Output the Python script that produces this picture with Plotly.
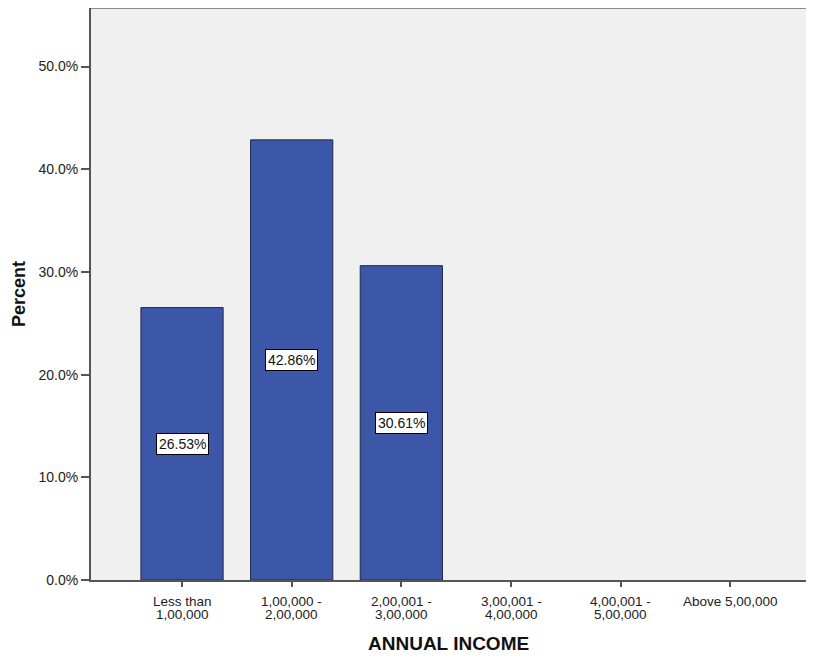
import plotly.graph_objects as go

cat_line1 = ["Less than", "1,00,000 -", "2,00,001 -", "3,00,001 -", "4,00,001 -", "Above 5,00,000"]
cat_line2 = ["1,00,000", "2,00,000", "3,00,000", "4,00,000", "5,00,000", ""]
percents = [26.53, 42.86, 30.61, 0, 0, 0]
y_ticks = [0, 10, 20, 30, 40, 50]
y_tick_labels = ["0.0%", "10.0%", "20.0%", "30.0%", "40.0%", "50.0%"]

FONT = "Liberation Sans, Arial"
xs = list(range(len(cat_line1)))
fig = go.Figure()
fig.add_trace(go.Bar(
    x=xs, y=percents, width=0.75,
    marker=dict(color="#3c56a8",
                line=dict(color="#1e2a4a", width=[1 if v > 0 else 0 for v in percents])),
    hoverinfo="skip",
))

for i, v in enumerate(percents):
    if v > 0:
        fig.add_annotation(x=i, y=v / 2, text=f"{v:.2f}%", showarrow=False,
                           bgcolor="white", bordercolor="black", borderwidth=1, borderpad=2,
                           font=dict(family=FONT, size=14, color="#111"))

# category labels (two tight lines each)
for i in xs:
    fig.add_annotation(x=i, xref="x", yref="paper", y=0, yshift=-21, yanchor="middle",
                       text=cat_line1[i], showarrow=False, borderpad=0,
                       font=dict(family=FONT, size=13.5, color="#222"))
    if cat_line2[i]:
        fig.add_annotation(x=i, xref="x", yref="paper", y=0, yshift=-34, yanchor="middle",
                           text=cat_line2[i], showarrow=False, borderpad=0,
                           font=dict(family=FONT, size=13.5, color="#222"))

fig.add_shape(type="line", xref="paper", yref="paper", x0=0, x1=1, y0=1, y1=1,
              line=dict(color="#8c8c8c", width=2))

fig.add_annotation(xref="paper", yref="paper", x=0.5, y=0, yshift=-63, yanchor="middle",
                   text="<b>ANNUAL INCOME</b>", showarrow=False,
                   font=dict(family=FONT, size=19, color="#111"))
fig.add_annotation(xref="paper", yref="paper", x=0, y=0.5, xshift=-72, xanchor="center",
                   text="<b>Percent</b>", textangle=-90, showarrow=False,
                   font=dict(family=FONT, size=18, color="#111"))

fig.update_layout(
    width=798, height=650,
    margin=dict(l=83, r=0, t=0, b=78),
    paper_bgcolor="white", plot_bgcolor="#f0f0f0",
    showlegend=False,
    font=dict(family=FONT, size=14, color="#222"),
    xaxis=dict(range=[-0.83, 5.69], tickmode="array", tickvals=xs, showticklabels=False,
               showgrid=False, zeroline=False, showline=True, linecolor="#555", linewidth=2,
               ticks="outside", ticklen=5, tickcolor="#555", tickwidth=2),
    yaxis=dict(range=[0, 55.7], tickmode="array", tickvals=y_ticks, ticktext=y_tick_labels,
               showgrid=False, zeroline=False, showline=True, linecolor="#555", linewidth=2,
               ticks="outside", ticklen=8, tickcolor="#555", tickwidth=2,
               tickfont=dict(size=14, color="#222")),
)

fig.write_html("out.html")
